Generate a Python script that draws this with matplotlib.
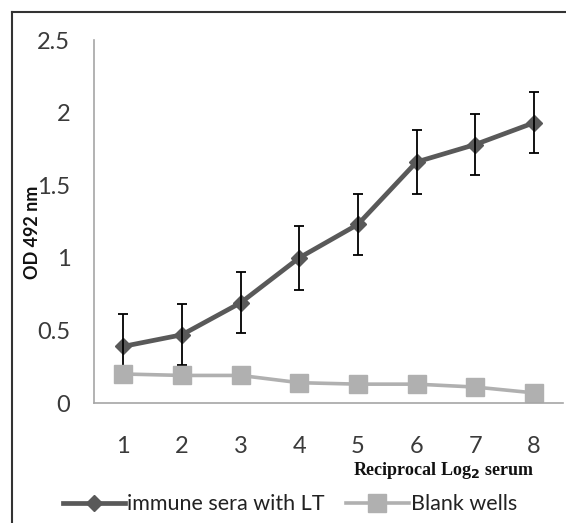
import matplotlib.pyplot as plt
from matplotlib.lines import Line2D

# dilution steps (reciprocal log2 of serum)
dilution = [1, 2, 3, 4, 5, 6, 7, 8]
immune = [0.39, 0.47, 0.69, 1.00, 1.23, 1.66, 1.78, 1.93]
immune_err = [0.22, 0.21, 0.21, 0.22, 0.21, 0.22, 0.21, 0.21]
blank = [0.20, 0.19, 0.19, 0.14, 0.13, 0.13, 0.11, 0.07]
yticks = [0, 0.5, 1, 1.5, 2, 2.5]
ytick_labels = ['0', '0.5', '1', '1.5', '2', '2.5']

plt.rcParams['font.family'] = ['Lato', 'DejaVu Sans']

fig = plt.figure(figsize=(5.66, 5.23), dpi=100)
ax = fig.add_axes([0.166, 0.2294, 0.829, 0.6941])

# dark line with error bars
ax.plot(dilution, immune, color='#595959', lw=3.4, marker='D', ms=8,
        label='immune sera with LT', zorder=3)
ax.errorbar(dilution, immune, yerr=immune_err, fmt='none', ecolor='black',
            elinewidth=1.3, capsize=3.6, capthick=1.3, zorder=4)
# light line on top
ax.plot(dilution, blank, color='#b0b0b0', lw=2.6, marker='s', ms=13,
        label='Blank wells', zorder=5)

ax.set_xlim(0.5, 8.5)
ax.set_ylim(0, 2.5)
ax.set_xticks(dilution)
ax.set_yticks(yticks)
ax.set_yticklabels(ytick_labels)
ax.tick_params(length=0, labelsize=17, colors='#3a3a3a')
ax.tick_params(axis='y', pad=17)
ax.tick_params(axis='x', pad=24)
for s in ['top', 'right']:
    ax.spines[s].set_visible(False)
for s in ['left', 'bottom']:
    ax.spines[s].set_color('#a6a6a6')
    ax.spines[s].set_linewidth(1.2)
ax.spines['bottom'].set_zorder(6)

fig.text(0.058, 0.555, 'OD 492 nm', rotation=90, fontsize=13, fontweight='bold',
         ha='center', va='center', color='#111111')
fig.text(0.783, 0.101, 'Reciprocal Log$_\\mathbf{2}$ serum', fontsize=13,
         fontweight='bold', family='Liberation Serif', ha='center', va='center',
         color='#111111')

leg = fig.legend(loc='center', bbox_to_anchor=(0.512, 0.036), ncol=2,
                 frameon=False, fontsize=15.5, handlelength=2.9,
                 handletextpad=0.1, columnspacing=1.0, borderpad=0)
for t in leg.get_texts():
    t.set_color('#222222')

# outer frame (left and top only)
fig.add_artist(Line2D([0.021, 0.021], [0, 0.977], transform=fig.transFigure,
                      color='#333333', lw=1.5))
fig.add_artist(Line2D([0.021, 1], [0.977, 0.977], transform=fig.transFigure,
                      color='#333333', lw=1.5))

fig.savefig('out.png', dpi=100)
